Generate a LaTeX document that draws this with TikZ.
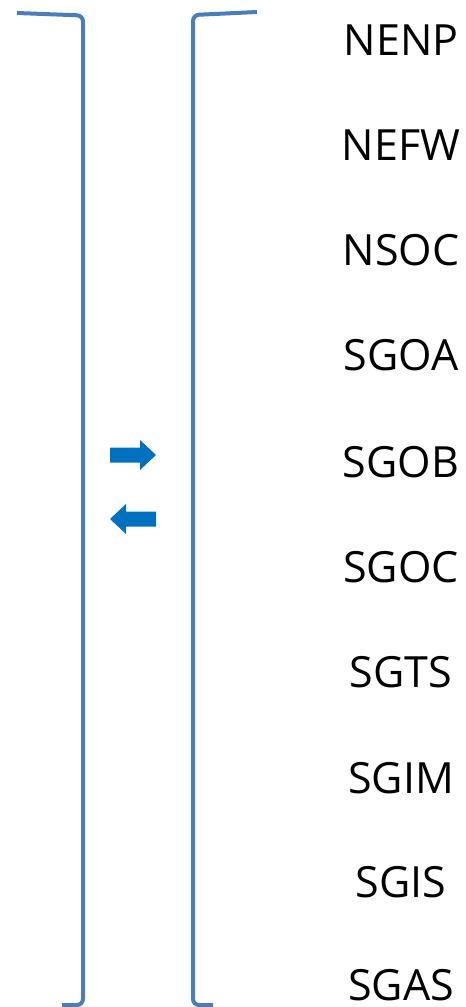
\documentclass[tikz,border=0pt]{standalone}
\usepackage{fontspec}
\setmainfont{Open Sans}
\definecolor{brk}{HTML}{4A7EBB}
\definecolor{arr}{HTML}{0070C0}
\tikzset{
  bracket/.style={draw=brk, line width=4pt, rounded corners=6pt},
  lbl/.style={font=\fontsize{43}{43}\selectfont, text=black, inner sep=0pt, anchor=center},
  blockarrow/.style={fill=arr, draw=none}
}
\begin{document}
\begin{tikzpicture}[x=1pt,y=-1pt]
\useasboundingbox (0,0) rectangle (466,1007);
\begin{scope}
\clip (0,0) rectangle (466,1007);
\draw[bracket] (17,13) -- (83,15.5) -- (83,1005) -- (62,1005);
\draw[bracket] (257,12) -- (193,15) -- (193,1005) -- (213,1005);
\end{scope}
% right-pointing block arrow
\fill[blockarrow] (110,447.5) -- (140,447.5) -- (140,440) -- (156,455) -- (140,470) -- (140,462.5) -- (110,462.5) -- cycle;
% left-pointing block arrow
\fill[blockarrow] (156,511.5) -- (126,511.5) -- (126,504) -- (110,519) -- (126,534) -- (126,526.5) -- (156,526.5) -- cycle;
\node[lbl] (n1) at (401,40) {NENP};
\node[lbl] (n2) at (401,145) {NEFW};
\node[lbl] (n3) at (401,250) {NSOC};
\node[lbl] (n4) at (401,355) {SGOA};
\node[lbl] (n5) at (401,462) {SGOB};
\node[lbl] (n6) at (401,567) {SGOC};
\node[lbl] (n7) at (401,672) {SGTS};
\node[lbl] (n8) at (401,778) {SGIM};
\node[lbl] (n9) at (401,882) {SGIS};
\node[lbl] (n10) at (401,985) {SGAS};
\end{tikzpicture}
\end{document}
